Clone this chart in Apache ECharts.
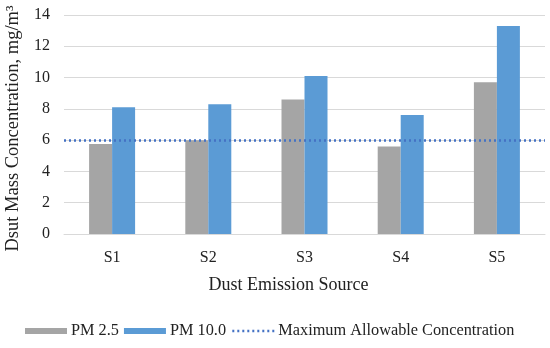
<!DOCTYPE html>
<html><head><meta charset="utf-8">
<script src="https://cdn.jsdelivr.net/npm/echarts@6/dist/echarts.min.js"></script>
<style>html,body{margin:0;padding:0;background:#fff}#c{width:550px;height:348px}</style>
</head><body><div id="c"></div>
<script>
const categories = ['S1','S2','S3','S4','S5'];
const pm25 = [5.75, 6.0, 8.6, 5.6, 9.7];
const pm10 = [8.1, 8.3, 10.1, 7.6, 13.3];
const maxAllowable = 6;
const yTicks = {min: 0, max: 14, interval: 2};
const F = 'Liberation Serif';
const chart = echarts.init(document.getElementById('c'));
chart.setOption({
  animation: false,
  textStyle: {fontFamily: F},
  grid: {left: 64, right: 5, top: 15, bottom: 114, outerBoundsMode: 'none', containLabel: false},
  legend: {
    bottom: 4, left: 20, itemGap: 5, itemWidth: 42, itemHeight: 6,
    textStyle: {fontFamily: F, fontSize: 16.3, color: '#222', padding: [0, 0, 0, -1]},
    data: [
      {name: 'PM 2.5', icon: 'rect'},
      {name: 'PM 10.0', icon: 'rect'},
      {name: 'Maximum Allowable Concentration', itemStyle: {opacity: 0},
       lineStyle: {color: '#4472c4', type: [2, 3], width: 2.5}}
    ]
  },
  xAxis: {
    type: 'category', data: categories,
    name: 'Dust Emission Source', nameLocation: 'middle', nameGap: 42,
    nameTextStyle: {fontFamily: F, fontSize: 18, color: '#222', padding: [0, 32, 0, 0]},
    axisLine: {lineStyle: {color: '#d9d9d9'}}, axisTick: {show: false},
    axisLabel: {fontFamily: F, fontSize: 16, color: '#222', margin: 16}
  },
  yAxis: {
    type: 'value', min: yTicks.min, max: yTicks.max, interval: yTicks.interval,
    name: 'Dsut Mass Concentration, mg/m³', nameLocation: 'middle', nameGap: 41,
    nameTextStyle: {fontFamily: F, fontSize: 18.5, color: '#222', padding: [0, 8, 0, 0]},
    axisLabel: {fontFamily: F, fontSize: 16, color: '#222', margin: 14},
    splitLine: {lineStyle: {color: '#d9d9d9', width: 1}}
  },
  series: [
    {name: 'PM 2.5', type: 'bar', data: pm25, barWidth: 23, barGap: '0%', itemStyle: {color: '#a5a5a5'}},
    {name: 'PM 10.0', type: 'bar', data: pm10, barWidth: 23, itemStyle: {color: '#5b9bd5'}},
    {name: 'Maximum Allowable Concentration', type: 'line', data: [], symbol: 'none',
     itemStyle: {color: '#4472c4'},
     lineStyle: {color: '#4472c4', type: [2, 3], width: 2.5},
     markLine: {silent: true, symbol: 'none', label: {show: false},
       lineStyle: {color: '#4472c4', type: [2, 3], width: 2.5},
       data: [{yAxis: maxAllowable}]}}
  ]
});
</script></body></html>
